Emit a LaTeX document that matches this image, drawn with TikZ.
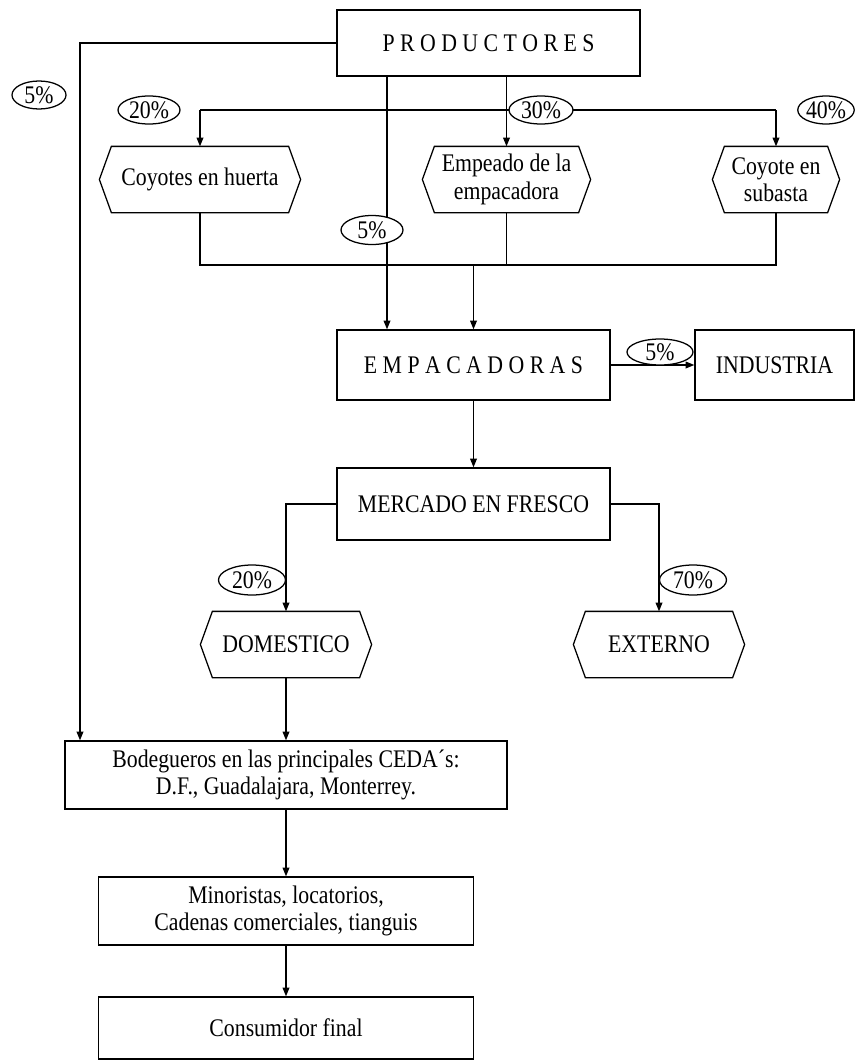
\documentclass[tikz,border=0pt]{standalone}
\usepackage{fontspec}
\setmainfont{Liberation Serif}[FakeStretch=0.86]
\usetikzlibrary{arrows.meta,calc,shapes.geometric}
\begin{document}
\begin{tikzpicture}[x=0.75pt,y=-0.75pt,line width=0.95pt,
  txt/.style={font=\fontsize{19}{20.5}\selectfont,align=center,inner sep=0pt},
  box/.style={txt,draw,line width=0.95pt},
  hex/.style={txt},
  wh/.style 2 args={minimum width=#1*0.75pt,minimum height=#2*0.75pt},
  pct/.style={txt,draw,fill=white,ellipse,line width=0.95pt},
  arr/.style={-{Triangle[length=6.5pt,width=5pt]}}]
\useasboundingbox (0,0) rectangle (855,1060);
% boxes
\node[box,wh={303}{66}] (prod) at (488.5,43) {P R O D U C T O R E S};
\node[box,wh={273}{70}] (empac) at (473.5,365) {E M P A C A D O R A S};
\node[box,wh={159}{70}] (ind) at (774.5,365) {INDUSTRIA};
\node[box,wh={273}{72}] (merc) at (473.5,504) {MERCADO EN FRESCO};
\node[box,wh={442}{68}] (bod) at (286,775) {Bodegueros en las principales CEDA´s:\\D.F., Guadalajara, Monterrey.};
\node[box,wh={375}{68}] (mino) at (286,911) {Minoristas, locatorios,\\Cadenas comerciales, tianguis};
\node[box,wh={375}{62}] (cons) at (286,1028) {Consumidor final};
% hexagons
\node[hex,wh={200}{65}] (coy) at (200,179.5) {Coyotes en huerta};
\node[hex,wh={167}{65}] (emp) at (506.5,179.5) {Empeado de la\\empacadora};
\node[hex,wh={126}{65}] (sub) at (776,179.5) {Coyote en\\subasta};
\node[hex,wh={170}{65}] (dom) at (286,644.5) {DOMESTICO};
\node[hex,wh={170}{65}] (ext) at (659,644.5) {EXTERNO};
\foreach \n in {coy,emp,sub,dom,ext}
  \draw (\n.west) -- ($(\n.north west)+(12,0)$) -- ($(\n.north east)+(-12,0)$) -- (\n.east)
        -- ($(\n.south east)+(-12,0)$) -- ($(\n.south west)+(12,0)$) -- cycle;
% coordinates
\coordinate (L) at (80,43);
\coordinate (top) at (0,110);
\coordinate (bot) at (0,265);
\coordinate (c5) at (387,0);
% connectors
\draw[arr] (prod.west) -- (L) -- (L |- bod.north);
\draw[arr] (prod.south -| emp.north) -- (emp.north);
\draw (coy.north |- top) -- (sub.north |- top);
\draw[arr] (coy.north |- top) -- (coy.north);
\draw[arr] (sub.north |- top) -- (sub.north);
\draw[arr] (prod.south -| c5) -- (empac.north -| c5);
\draw (coy.south) -- (coy.south |- bot) -- (sub.south |- bot) -- (sub.south);
\draw (emp.south) -- (emp.south |- bot);
\draw[arr] (empac.north |- bot) -- (empac.north);
\draw[arr] (empac.east) -- (ind.west);
\draw[arr] (empac.south) -- (merc.north);
\draw[arr] (merc.west) -| (dom.north);
\draw[arr] (merc.east) -| (ext.north);
\draw[arr] (dom.south) -- (dom.south |- bod.north);
\draw[arr] (bod.south) -- (mino.north);
\draw[arr] (mino.south) -- (cons.north);
% percentages
\node[pct,wh={54}{28}] (p1) at (39,95) {5\%};
\node[pct,wh={62}{28}] (p2) at (149,110) {20\%};
\node[pct,wh={64}{28}] (p3) at (541,110) {30\%};
\node[pct,wh={56}{28}] (p4) at (826,110) {40\%};
\node[pct,wh={62}{29}] (p5) at (372,230) {5\%};
\node[pct,wh={66}{26}] (p6) at (660,352) {5\%};
\node[pct,wh={67}{30}] (p7) at (252,580) {20\%};
\node[pct,wh={67}{30}] (p8) at (693,580) {70\%};
\end{tikzpicture}
\end{document}
